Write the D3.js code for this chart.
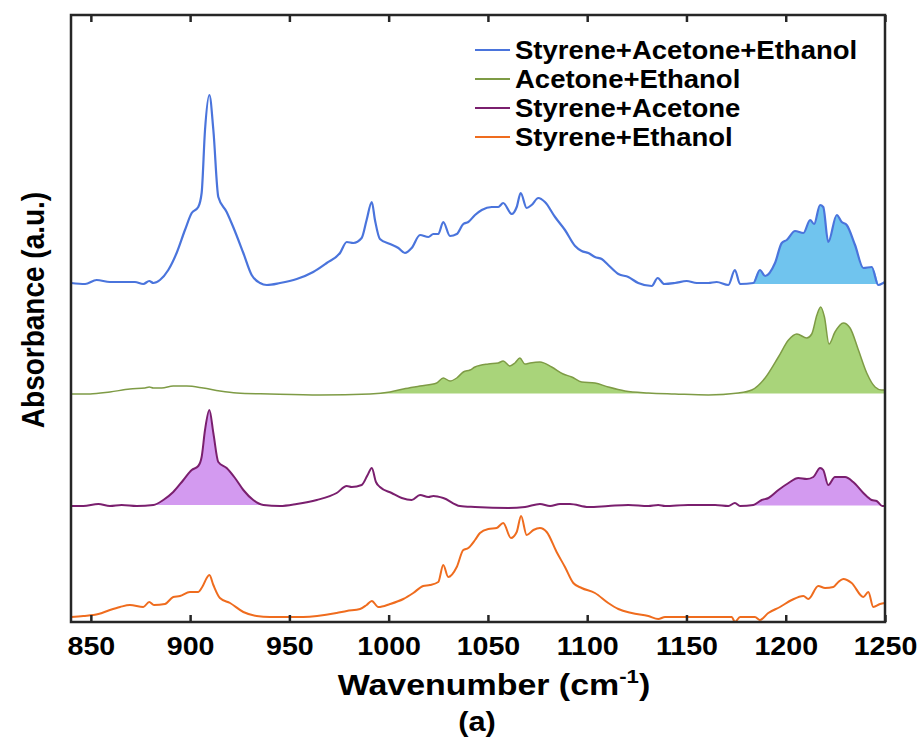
<!DOCTYPE html>
<html>
<head>
<meta charset="utf-8">
<script src="https://cdn.jsdelivr.net/npm/d3@7"></script>
<style>
  body { margin: 0; background: #fff; }
  text { font-family: "Liberation Sans", Arial, sans-serif; font-weight: bold; fill: #000; }
</style>
</head>
<body>
<svg id="chart" width="923" height="744"></svg>
<script>

// wavenumber (cm-1), absorbance (a.u., already offset per trace)
let styAceEth = [[840,3.39],[847.1,3.38],[852.9,3.42],[859.6,3.40],[864.7,3.40],[872.2,3.40],[876.4,3.38],[879.4,3.41],[881.5,3.39],[884.8,3.42],[889,3.52],[893.2,3.69],[897.4,3.92],[900.8,4.09],[904.1,4.15],[905.8,4.29],[907.5,4.92],[909.7,5.27],[911.7,4.92],[914.2,4.25],[918.4,4.10],[921.7,3.95],[926.8,3.69],[931,3.47],[935.2,3.39],[938.6,3.37],[945.3,3.39],[953.7,3.43],[962,3.50],[968.8,3.59],[975.5,3.69],[978.9,3.80],[982.2,3.79],[986.4,3.84],[988.9,4.02],[991.5,4.20],[993.1,4.02],[995.6,3.83],[1000.7,3.78],[1004.9,3.74],[1008.2,3.69],[1011.6,3.74],[1015.8,3.87],[1020,3.85],[1022.5,3.88],[1025,3.88],[1027.5,4.00],[1030.9,3.86],[1034.3,3.88],[1037.6,3.98],[1040.1,4.00],[1043.5,4.07],[1046.9,4.12],[1051.9,4.15],[1055.2,4.15],[1057.7,4.19],[1062,4.08],[1064.5,4.15],[1066.5,4.29],[1069.5,4.14],[1072,4.17],[1075.4,4.24],[1078.7,4.20],[1083.8,4.05],[1088.8,3.92],[1093.9,3.76],[1097.2,3.71],[1100.6,3.69],[1103.9,3.65],[1107.3,3.63],[1110.6,3.57],[1115.7,3.48],[1120.7,3.45],[1125.7,3.39],[1132.5,3.36],[1135.5,3.44],[1138.8,3.38],[1144.2,3.39],[1150.1,3.41],[1155.2,3.39],[1161,3.39],[1165.2,3.40],[1171.1,3.37],[1174.4,3.52],[1177,3.38],[1183.7,3.39],[1187,3.52],[1189.6,3.46],[1194.6,3.59],[1198,3.79],[1200.5,3.82],[1204.7,3.91],[1208.9,3.89],[1212.3,4.02],[1214.3,3.98],[1217.3,4.17],[1218.9,4.15],[1221.4,3.80],[1225.7,4.07],[1228.2,4.00],[1230.7,3.97],[1234.9,3.77],[1239.1,3.54],[1243.3,3.55],[1246.6,3.37],[1249.1,3.39],[1250,3.40]];

let aceEth = [[840,2.28],[849.6,2.28],[859.6,2.30],[869.7,2.33],[877.3,2.34],[879.4,2.35],[881.5,2.34],[885.7,2.34],[891.5,2.36],[898.3,2.36],[906.6,2.34],[915,2.31],[923.5,2.29],[940.2,2.28],[965.4,2.27],[990.6,2.28],[1000.7,2.30],[1007.4,2.33],[1015.8,2.36],[1024.2,2.39],[1027.5,2.44],[1030.9,2.41],[1034.3,2.44],[1037.6,2.50],[1041,2.52],[1043.5,2.55],[1050.2,2.58],[1055.2,2.59],[1057.7,2.61],[1061.1,2.56],[1063.6,2.59],[1066.1,2.64],[1068.6,2.58],[1071.2,2.59],[1076.2,2.60],[1082.1,2.55],[1087.9,2.48],[1092.2,2.45],[1097.2,2.40],[1103.9,2.39],[1110.6,2.35],[1119,2.31],[1130.8,2.29],[1144.2,2.28],[1161,2.27],[1176.1,2.29],[1182.9,2.32],[1189.6,2.44],[1196.3,2.65],[1201.4,2.82],[1205.6,2.88],[1210.6,2.84],[1213.1,2.88],[1215.7,3.07],[1217.6,3.15],[1219.5,3.05],[1221.8,2.78],[1224.8,2.90],[1229,2.99],[1232.4,2.94],[1236.6,2.72],[1240.8,2.49],[1245,2.35],[1248.3,2.32],[1250,2.32]];

let styAce = [[840,1.16],[846.2,1.16],[853.8,1.18],[859.6,1.16],[865.5,1.17],[873.1,1.16],[881.5,1.17],[886.5,1.22],[891.5,1.30],[896.6,1.42],[900.8,1.52],[904.1,1.56],[905.8,1.65],[907.5,1.92],[909.7,2.12],[911.7,1.89],[914.2,1.60],[918.4,1.54],[922.6,1.44],[926.8,1.32],[931.8,1.22],[936.9,1.17],[945.3,1.16],[953.7,1.18],[963.8,1.22],[973.8,1.29],[978.9,1.36],[981.4,1.35],[986.4,1.37],[989.4,1.47],[991.5,1.54],[993.6,1.40],[995.6,1.35],[1001.5,1.29],[1006.6,1.24],[1011.6,1.22],[1015.8,1.27],[1020,1.25],[1022.5,1.26],[1027.5,1.24],[1035.9,1.16],[1043.5,1.15],[1060.3,1.14],[1068.7,1.15],[1076.2,1.18],[1081.3,1.16],[1086.3,1.18],[1091.3,1.18],[1100.6,1.15],[1110.6,1.16],[1120.7,1.17],[1130.8,1.16],[1135.8,1.17],[1139.2,1.16],[1150.9,1.17],[1164.4,1.17],[1171.1,1.16],[1174.4,1.19],[1177,1.16],[1183.7,1.17],[1187.9,1.22],[1191.3,1.24],[1196.3,1.32],[1201.4,1.39],[1206.3,1.44],[1210.6,1.43],[1213.9,1.45],[1217.3,1.54],[1218.9,1.52],[1221.4,1.37],[1224.8,1.45],[1229.9,1.45],[1234,1.40],[1239.1,1.29],[1243.3,1.22],[1245.8,1.21],[1248.6,1.16],[1250,1.16]];

let styEth = [[840,0.05],[846.2,0.06],[853.8,0.08],[859.6,0.12],[864.7,0.15],[869.7,0.17],[876.4,0.15],[879.4,0.20],[881.8,0.17],[887.3,0.18],[891.5,0.25],[894.9,0.26],[899.9,0.30],[904.1,0.30],[905.8,0.34],[909.7,0.47],[911.7,0.37],[915,0.24],[920.1,0.19],[926.8,0.10],[933.5,0.06],[940.2,0.05],[957,0.05],[973.8,0.09],[978.9,0.11],[985.6,0.13],[988.9,0.17],[991.5,0.21],[994.8,0.15],[1000.7,0.18],[1007.4,0.23],[1012.4,0.29],[1017.4,0.36],[1020.8,0.37],[1025,0.40],[1027.5,0.57],[1030,0.45],[1034.3,0.55],[1037.6,0.72],[1040.1,0.74],[1043.5,0.82],[1046,0.89],[1050.2,0.93],[1054.4,0.94],[1057.7,0.99],[1061.6,0.84],[1064.5,0.90],[1066.7,1.06],[1069.5,0.87],[1072.9,0.92],[1076.2,0.94],[1079.6,0.90],[1084.6,0.70],[1088.8,0.55],[1093,0.39],[1097.2,0.34],[1103.9,0.29],[1110.6,0.19],[1115.7,0.13],[1122.4,0.09],[1130.8,0.06],[1135.8,0.03],[1139.2,0.05],[1152.6,0.05],[1167.7,0.05],[1172.8,0.05],[1174.4,0.00],[1177,0.05],[1184.5,0.05],[1187,0.02],[1191.2,0.09],[1197.1,0.15],[1203,0.22],[1208.9,0.26],[1211.4,0.23],[1216.4,0.36],[1219.8,0.34],[1224,0.35],[1226.5,0.40],[1229,0.43],[1233.2,0.39],[1239.1,0.25],[1241.6,0.30],[1244.1,0.15],[1247.5,0.18],[1250,0.19]];

let seriesNames = ['Styrene+Acetone+Ethanol', 'Acetone+Ethanol', 'Styrene+Acetone', 'Styrene+Ethanol'];
let seriesData = [styAceEth, aceEth, styAce, styEth];
let lineColors = ['#4a74dc', '#7e9b45', '#7a1f6e', '#ef6c1e'];
let lineWidths = [2.2, 1.5, 2, 2];

// shaded bands: [series index, from, to, baseline]
let shadeBands = [[0, 1183.5, 1247, 3.38], [1, 990, 1250, 2.285], [2, 881, 937.5, 1.17], [2, 1183.5, 1250, 1.165]];
let shadeColors = ['#70c4ee', '#a9d47a', '#d39af0', '#d39af0'];

let xTicks = [850, 900, 950, 1000, 1050, 1100, 1150, 1200, 1250];

let svg = d3.select('#chart');
let pLeft = 71, pRight = 885, pTop = 15, pBottom = 622;

let x = d3.scaleLinear().domain([840, 1250]).range([pLeft, pRight]);
let y = d3.scaleLinear().domain([0, 6.07]).range([pBottom, pTop]);

// fills first, lines on top
shadeBands.forEach(function(b, i) {
  let pts = seriesData[b[0]].filter(function(d){ return d[0] >= b[1] && d[0] <= b[2]; });
  let area = d3.area()
      .curve(d3.curveMonotoneX)
      .x(function(d){ return x(d[0]); })
      .y0(y(b[3]))
      .y1(function(d){ return y(Math.max(d[1], b[3])); });
  svg.append('path')
      .attr('d', area(pts))
      .attr('fill', shadeColors[i]);
});

let line = d3.line()
    .curve(d3.curveMonotoneX)
    .x(function(d){ return x(d[0]); })
    .y(function(d){ return y(d[1]); });

svg.append('g').selectAll('path')
  .data(seriesData)
  .enter().append('path')
    .attr('d', line)
    .attr('fill', 'none')
    .attr('stroke', function(d, i){ return lineColors[i]; })
    .attr('stroke-width', function(d, i){ return lineWidths[i]; })
    .attr('stroke-linejoin', 'round');

// axes, ticks inward
let xb = svg.append('g')
    .attr('transform', 'translate(0,' + pBottom + ')')
    .call(d3.axisBottom(x).tickValues(xTicks).tickSize(-7).tickPadding(15).tickFormat(d3.format('d')));
xb.select('.domain').remove();
xb.selectAll('line').attr('stroke', '#262626').attr('stroke-width', 2.5);
xb.selectAll('text')
    .attr('font-size', 26)
    .attr('font-family', '"Liberation Sans", Arial, sans-serif')
    .attr('font-weight', 'bold')
    .attr('fill', '#222')
    .attr('transform', 'scale(1.1,1)');

let xt = svg.append('g')
    .attr('transform', 'translate(0,' + pTop + ')')
    .call(d3.axisTop(x).tickValues(xTicks).tickSize(-7).tickFormat(''));
xt.select('.domain').remove();
xt.selectAll('line').attr('stroke', '#262626').attr('stroke-width', 2.5);

svg.append('rect')
    .attr('x', pLeft).attr('y', pTop)
    .attr('width', pRight - pLeft).attr('height', pBottom - pTop)
    .attr('fill', 'none')
    .attr('stroke', '#262626')
    .attr('stroke-width', 2.5);

// axis titles
let xl = svg.append('text')
    .attr('transform', 'translate(494,695) scale(1.17,1)')
    .attr('text-anchor', 'middle')
    .attr('font-size', 29)
    .attr('fill', '#222');
xl.append('tspan').text('Wavenumber (cm');
xl.append('tspan').attr('dy', -12).attr('font-size', 19).text('-1');
xl.append('tspan').attr('dy', 12).text(')');

svg.append('text')
    .attr('transform', 'translate(44,310) scale(1.15,1) rotate(-90)')
    .attr('text-anchor', 'middle')
    .attr('font-size', 28)
    .attr('fill', '#222')
    .text('Absorbance (a.u.)');

svg.append('text')
    .attr('transform', 'translate(477,731) scale(1.1,1)')
    .attr('text-anchor', 'middle')
    .attr('font-size', 28)
    .attr('fill', '#222')
    .text('(a)');

// legend
let leg = svg.append('g').attr('class', 'legend');
seriesNames.forEach(function(name, i) {
  let cy = 50 + i * 29;
  leg.append('line')
      .attr('x1', 475).attr('x2', 510)
      .attr('y1', cy).attr('y2', cy)
      .attr('stroke', lineColors[i])
      .attr('stroke-width', 2);
  leg.append('text')
      .attr('transform', 'translate(515,' + (cy + 9) + ') scale(1.1,1)')
      .attr('font-size', 25)
      .text(name);
});

</script>
</body>
</html>
